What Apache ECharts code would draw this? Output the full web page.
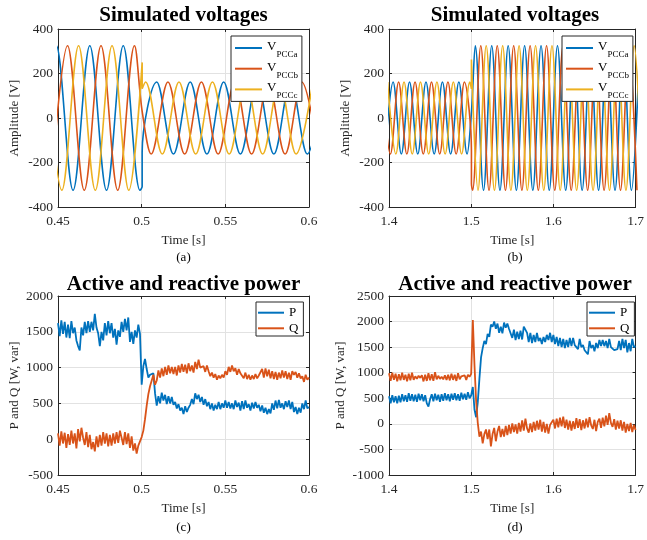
<!DOCTYPE html>
<html>
<head>
<meta charset="utf-8">
<script src="https://cdn.jsdelivr.net/npm/echarts@6/dist/echarts.min.js"></script>
<style>
html, body { margin: 0; padding: 0; background: #fff; }
#chart { width: 647px; height: 540px; }
</style>
</head>
<body>
<div id="chart"></div>
<script>
// ---- values ----
// voltages: peaks / troughs as [t, V]; two rows with the same t = the step at the switching instant
var vaA = [[0.439,-325],[0.449,325],[0.459,-325],[0.469,325],[0.479,-325],[0.489,325],[0.499,-325],
  [0.5003,-308],[0.5003,-154],[0.509,162],[0.519,-162],[0.529,162],[0.539,-162],[0.549,162],[0.559,-162],
  [0.569,162],[0.579,-162],[0.589,162],[0.599,-162],[0.609,162]];
var vbA = [[0.4457,-325],[0.4557,325],[0.4657,-325],[0.4757,325],[0.4857,-325],[0.4957,325],[0.5003,30],
  [0.5057,-162],[0.5157,162],[0.5257,-162],[0.5357,162],[0.5457,-162],[0.5557,162],[0.5657,-162],
  [0.5757,162],[0.5857,-162],[0.5957,162],[0.6057,-162]];
var vcA = [[0.4423,325],[0.4523,-325],[0.4623,325],[0.4723,-325],[0.4823,325],[0.4923,-325],
  [0.5003,250],[0.5003,132],[0.5023,162],[0.5123,-162],[0.5223,162],[0.5323,-162],[0.5423,162],
  [0.5523,-162],[0.5623,162],[0.5723,-162],[0.5823,162],[0.5923,-162],[0.6023,162]];

var vaB = [[1.395,-162],[1.405,162],[1.415,-162],[1.425,162],[1.435,-162],[1.445,162],[1.455,-162],
  [1.465,162],[1.475,-162],[1.485,162],[1.495,-162],[1.5003,25],[1.505,325],[1.515,-325],[1.525,325],
  [1.535,-325],[1.545,325],[1.555,-325],[1.565,325],[1.575,-325],[1.585,325],[1.595,-325],[1.605,325],
  [1.615,-325],[1.625,325],[1.635,-325],[1.645,325],[1.655,-325],[1.665,325],[1.675,-325],[1.685,325],
  [1.695,-325],[1.705,325]];
var vbB = [[1.3917,162],[1.4017,-162],[1.4117,162],[1.4217,-162],[1.4317,162],[1.4417,-162],[1.4517,162],
  [1.4617,-162],[1.4717,162],[1.4817,-162],[1.4917,162],[1.5003,-147],[1.5003,-294],[1.5017,-325],
  [1.5117,325],[1.5217,-325],[1.5317,325],[1.5417,-325],[1.5517,325],[1.5617,-325],[1.5717,325],
  [1.5817,-325],[1.5917,325],[1.6017,-325],[1.6117,325],[1.6217,-325],[1.6317,325],[1.6417,-325],
  [1.6517,325],[1.6617,-325],[1.6717,325],[1.6817,-325],[1.6917,325],[1.7017,-325]];
var vcB = [[1.3983,162],[1.4083,-162],[1.4183,162],[1.4283,-162],[1.4383,162],[1.4483,-162],[1.4583,162],
  [1.4683,-162],[1.4783,162],[1.4883,-162],[1.4983,162],[1.5003,131],[1.5003,263],[1.5083,-325],
  [1.5183,325],[1.5283,-325],[1.5383,325],[1.5483,-325],[1.5583,325],[1.5683,-325],[1.5783,325],
  [1.5883,-325],[1.5983,325],[1.6083,-325],[1.6183,325],[1.6283,-325],[1.6383,325],[1.6483,-325],
  [1.6583,325],[1.6683,-325],[1.6783,325],[1.6883,-325],[1.6983,325],[1.7083,-325]];

// powers, one sample per step starting at t0
var t0C = 0.45, dtC = 0.001;
var pC = [1620,1440,1660,1470,1640,1420,1600,1410,1650,1480,
  1560,1380,1300,1240,1560,1450,1640,1480,1650,1500,
  1640,1520,1750,1560,1480,1300,1500,1380,1620,1450,
  1650,1480,1620,1420,1540,1320,1520,1430,1640,1500,
  1680,1520,1700,1360,1500,1330,1520,1420,1600,1470,
  760,1020,1120,980,860,900,880,920,640,470,
  600,500,650,540,620,490,600,500,590,480,
  520,430,490,400,440,350,460,380,440,480,
  560,490,640,560,620,520,590,480,560,460,
  520,420,500,400,480,420,520,420,500,440,
  540,440,520,430,500,420,540,450,510,400,
  530,420,540,440,490,400,510,430,520,440,
  480,390,470,370,440,350,420,360,500,410,
  540,430,550,440,500,420,530,450,540,420,
  520,380,450,350,440,370,500,420,540,430,
  450];
var qC = [80,-90,110,-60,90,-120,70,-80,120,-60,
  80,-130,140,-30,160,20,-80,100,-110,60,
  -140,-40,-170,40,-110,60,-90,100,-60,80,
  -100,60,-90,80,-60,100,-50,120,20,-80,
  100,-70,80,-120,40,-160,-60,-200,-90,-30,
  30,120,280,470,630,740,820,900,760,820,
  960,860,990,880,1010,900,1030,920,1010,910,
  1010,890,1030,930,1050,940,1040,920,1060,950,
  1030,930,1080,980,1110,1000,1010,1020,940,1030,
  950,880,930,860,910,830,890,850,900,860,
  950,900,1010,940,1030,950,990,900,980,920,
  910,850,930,840,900,830,890,840,910,850,
  890,870,980,860,990,880,970,850,950,840,
  940,830,930,850,960,860,950,840,930,830,
  950,900,940,860,920,850,880,800,900,830,
  860];

var t0D = 1.4, dtD = 0.002;
var pD = [540,400,560,420,540,400,550,420,580,440,
  560,430,600,450,580,440,570,430,590,460,
  580,440,560,400,340,480,580,440,590,460,
  570,430,580,450,600,460,580,440,590,470,
  600,460,580,450,610,480,590,470,620,500,
  560,720,280,130,420,880,1300,1480,1620,1560,
  1760,1700,1940,1900,2000,1860,1960,1780,1900,1770,
  1980,1880,1960,1860,1880,1680,1840,1640,1800,1660,
  1820,1650,1900,1880,1780,1600,1780,1580,1740,1600,
  1780,1620,1680,1560,1700,1600,1740,1640,1780,1600,
  1740,1560,1700,1520,1680,1500,1660,1480,1640,1500,
  1680,1520,1680,1540,1560,1460,1660,1500,1540,1440,
  1460,1360,1620,1480,1540,1420,1580,1480,1640,1520,
  1640,1520,1620,1480,1660,1500,1520,1440,1420,1460,
  1620,1440,1660,1480,1640,1400,1580,1420,1660,1500,
  1520];
var qD = [990,840,1000,860,980,830,970,850,1000,860,
  960,830,980,850,1000,860,930,880,940,900,
  950,830,960,840,990,850,970,840,1010,870,
  940,880,920,870,950,860,960,850,980,860,
  960,840,990,870,930,900,950,860,960,920,
  980,2030,1150,450,20,-250,-150,-380,-200,-110,
  -300,-110,-440,-200,-80,-340,-150,-40,-260,-100,
  -250,-40,-220,-20,-190,10,-160,-10,-190,20,
  -150,70,-130,100,-90,-170,10,-160,40,-130,
  60,-110,80,-150,40,-170,0,-190,-20,30,
  80,-90,100,-70,120,-50,140,-80,80,-110,
  60,-130,50,-100,110,-80,90,-120,70,-90,
  100,-70,130,-30,-100,80,-140,40,100,-80,
  120,-50,160,-20,210,20,-60,90,-110,60,
  -90,70,-130,40,-170,0,-140,20,-160,-20,
  -120];

// axis ranges / ticks
var xRanges = [[0.45, 0.6, 0.05], [1.4, 1.7, 0.1], [0.45, 0.6, 0.05], [1.4, 1.7, 0.1]];
var yRanges = [[-400, 400, 200], [-400, 400, 200], [-500, 2000, 500], [-1000, 2500, 500]];
var yNames = ['Amplitude [V]', 'Amplitude [V]', 'P and Q [W, var]', 'P and Q [W, var]'];

function timed(t0, dt, vals) {
  return vals.map(function (v, i) { return [t0 + i * dt, v]; });
}

var serif = '"Liberation Serif", "Times New Roman", serif';
var ink = '#262626';
var blue = '#0072BD', red = '#D95319', yellow = '#EDB120';

var grids = [
  { left: 58, top: 29, width: 251, height: 178 },
  { left: 389, top: 29, width: 252, height: 178 },
  { left: 58, top: 296, width: 251, height: 179 },
  { left: 389, top: 296, width: 252, height: 179 }
];

var xAxes = [], yAxes = [];
grids.forEach(function (g, i) {
  xAxes.push({
    gridIndex: i, type: 'value', position: 'bottom',
    min: xRanges[i][0], max: xRanges[i][1], interval: xRanges[i][2],
    name: 'Time [s]', nameLocation: 'middle', nameGap: 27,
    nameTextStyle: { fontFamily: serif, fontSize: 13, color: ink },
    axisLine: { show: true, onZero: false, lineStyle: { color: ink, width: 1 } },
    axisTick: { show: true, inside: true, length: 3, lineStyle: { color: ink } },
    axisLabel: { fontFamily: serif, fontSize: 13.5, color: ink, margin: 7 },
    splitLine: { show: true, lineStyle: { color: '#e2e2e2', width: 1 } }
  });
  yAxes.push({
    gridIndex: i, type: 'value', position: 'left',
    min: yRanges[i][0], max: yRanges[i][1], interval: yRanges[i][2],
    name: yNames[i], nameLocation: 'middle', nameGap: i === 3 ? 42 : 37,
    nameTextStyle: { fontFamily: serif, fontSize: 13, color: ink },
    axisLine: { show: true, onZero: false, lineStyle: { color: ink, width: 1 } },
    axisTick: { show: true, inside: true, length: 3, lineStyle: { color: ink } },
    axisLabel: { fontFamily: serif, fontSize: 13.5, color: ink, margin: 5,
      formatter: function (v) { return String(v); } },
    splitLine: { show: true, lineStyle: { color: '#e2e2e2', width: 1 } }
  });
});
// box: top and right axes without labels
grids.forEach(function (g, i) {
  xAxes.push({
    gridIndex: i, type: 'value', position: 'top',
    min: xRanges[i][0], max: xRanges[i][1], interval: xRanges[i][2],
    axisLine: { show: true, onZero: false, lineStyle: { color: ink, width: 1 } },
    axisTick: { show: true, inside: true, length: 3, lineStyle: { color: ink } },
    axisLabel: { show: false }, splitLine: { show: false }
  });
  yAxes.push({
    gridIndex: i, type: 'value', position: 'right',
    min: yRanges[i][0], max: yRanges[i][1], interval: yRanges[i][2],
    axisLine: { show: true, onZero: false, lineStyle: { color: ink, width: 1 } },
    axisTick: { show: true, inside: true, length: 3, lineStyle: { color: ink } },
    axisLabel: { show: false }, splitLine: { show: false }
  });
});

function line(name, g, data, color, smooth, width) {
  return {
    name: name, type: 'line', xAxisIndex: g, yAxisIndex: g, data: data,
    smooth: smooth, symbol: 'none', showSymbol: false, clip: true,
    lineStyle: { color: color, width: width }, itemStyle: { color: color },
    emphasis: { disabled: true }
  };
}

var series = [
  line('VPCCa', 0, vaA, blue, 0.35, 1.6),
  line('VPCCb', 0, vbA, red, 0.35, 1.6),
  line('VPCCc', 0, vcA, yellow, 0.35, 1.6),
  line('VPCCa', 1, vaB, blue, 0.35, 1.6),
  line('VPCCb', 1, vbB, red, 0.35, 1.6),
  line('VPCCc', 1, vcB, yellow, 0.35, 1.6),
  line('P', 2, timed(t0C, dtC, pC), blue, false, 1.8),
  line('Q', 2, timed(t0C, dtC, qC), red, false, 1.8),
  line('P', 3, timed(t0D, dtD, pD), blue, false, 1.8),
  line('Q', 3, timed(t0D, dtD, qD), red, false, 1.8)
];

function vLegend(left) {
  return {
    left: left, top: 36, orient: 'vertical', data: ['VPCCa', 'VPCCb', 'VPCCc'],
    icon: 'rect', itemWidth: 27, itemHeight: 2, itemGap: -1.3, padding: [1, 4, 1, 4],
    itemStyle: { borderWidth: 0 },
    borderColor: ink, borderWidth: 1, backgroundColor: '#fff', selectedMode: false,
    formatter: function (n) { return '{v|V}{s|' + n.slice(1) + '}'; },
    textStyle: {
      fontFamily: serif, color: '#000',
      rich: {
        v: { fontFamily: serif, fontSize: 13, lineHeight: 14, verticalAlign: 'top', padding: [3, 0, 0, 0], color: '#000' },
        s: { fontFamily: serif, fontSize: 9, lineHeight: 22, verticalAlign: 'bottom', color: '#000' }
      }
    }
  };
}
function pLegend(left) {
  return {
    left: left, top: 302, orient: 'vertical', data: ['P', 'Q'],
    icon: 'rect', itemWidth: 26, itemHeight: 2, itemGap: 0.6, padding: [3.2, 5, 0.2, 2],
    itemStyle: { borderWidth: 0 },
    borderColor: ink, borderWidth: 1, backgroundColor: '#fff', selectedMode: false,
    textStyle: { fontFamily: serif, fontSize: 13, lineHeight: 15, color: '#000' }
  };
}

function label(text, x, y, size, bold) {
  return {
    text: text, left: x, top: y, textAlign: 'center', padding: 0,
    textStyle: { fontFamily: serif, fontSize: size, fontWeight: bold ? 'bold' : 'normal', color: '#000' }
  };
}

var chart = echarts.init(document.getElementById('chart'), null, { renderer: 'canvas' });
chart.setOption({
  animation: false,
  backgroundColor: '#fff',
  title: [
    label('Simulated voltages', 183.5, 5, 21, true),
    label('Simulated voltages', 515, 5, 21, true),
    label('Active and reactive power', 183.5, 274, 21, true),
    label('Active and reactive power', 515, 274, 21, true),
    label('(a)', 183.5, 251, 13, false),
    label('(b)', 515, 251, 13, false),
    label('(c)', 183.5, 521, 13, false),
    label('(d)', 515, 521, 13, false)
  ],
  legend: [vLegend(231), vLegend(562), pLegend(256), pLegend(587)],
  grid: grids,
  xAxis: xAxes,
  yAxis: yAxes,
  series: series
});
</script>
</body>
</html>
